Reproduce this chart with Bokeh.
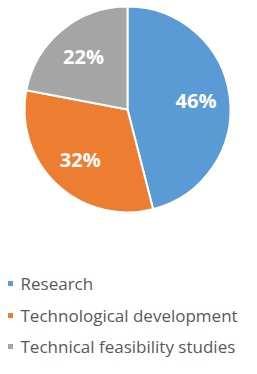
import math
from bokeh.plotting import figure
from bokeh.models import Range1d, ColumnDataSource
from bokeh.core.properties import value
from bokeh.embed import file_html
from bokeh.resources import INLINE

categories = ["Research", "Technological development", "Technical feasibility studies"]
shares = [46, 32, 22]
labels = ["46%", "32%", "22%"]
colors = ["#5B9BD5", "#ED7D31", "#A5A5A5"]

W, H = 241, 358
p = figure(width=W, height=H, output_backend="svg", toolbar_location=None,
           x_range=Range1d(0, W), y_range=Range1d(0, H), min_border=0)
p.axis.visible = False
p.grid.visible = False
p.outline_line_color = None
p.background_fill_color = "white"
p.border_fill_color = "white"

cx, cy, R = 127, H - 109, 103
total = sum(shares)
starts, ends, lx, ly = [], [], [], []
a = math.pi / 2
for s in shares:
    b = a - 2 * math.pi * s / total
    starts.append(a)
    ends.append(b)
    m = (a + b) / 2
    lx.append(cx + 0.67 * R * math.cos(m))
    ly.append(cy + 0.67 * R * math.sin(m))
    a = b

src = ColumnDataSource(dict(start=starts, end=ends, color=colors, lx=lx, ly=ly, label=labels))
p.wedge(x=cx, y=cy, radius=R, start_angle="start", end_angle="end", direction="clock",
        fill_color="color", line_color="white", line_width=2, source=src)
p.text(x="lx", y="ly", text="label", source=src, text_color="white",
       text_font=value("Open Sans"), text_font_style="bold", text_font_size="20px",
       text_align="center", text_baseline="middle")

# legend
leg_y = [H - 283, H - 315, H - 346]
leg_src = ColumnDataSource(dict(y=leg_y, name=categories, color=colors))
p.rect(x=10, y="y", width=5, height=5, fill_color="color", line_color=None, source=leg_src)
p.text(x=20, y="y", text="name", source=leg_src, text_color="#595959",
       text_font=value("Open Sans"), text_font_size="17px",
       text_align="left", text_baseline="middle")

open("out.html", "w").write(file_html(p, INLINE))
